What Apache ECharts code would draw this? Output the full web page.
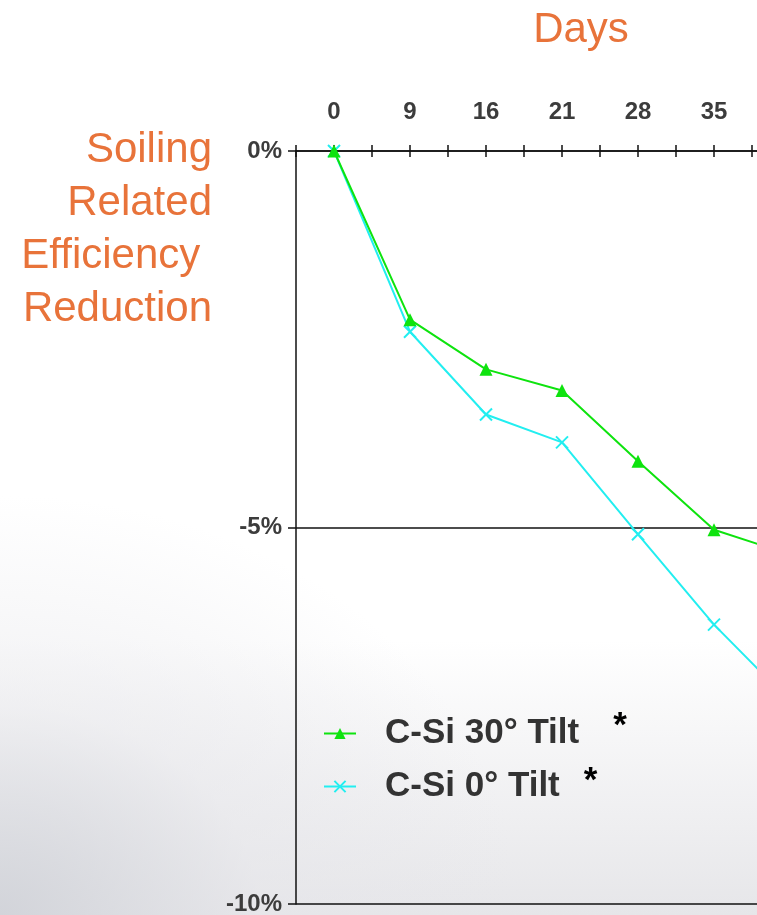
<!DOCTYPE html>
<html>
<head>
<meta charset="utf-8">
<script src="https://cdn.jsdelivr.net/npm/echarts@6/dist/echarts.min.js"></script>
<style>
  html, body { margin: 0; padding: 0; }
  #chart {
    width: 757px; height: 915px;
    background:
      radial-gradient(ellipse 520px 420px at 0% 100%, rgba(208,210,216,0.9) 0%, rgba(230,230,234,0.5) 50%, rgba(255,255,255,0) 100%),
      linear-gradient(to bottom, #ffffff 0%, #ffffff 70%, #e6e6e9 100%);
  }
</style>
</head>
<body>
<div id="chart"></div>
<script>
// day labels on the top axis (evenly spaced, last one falls off the right edge)
const days = ['0', '9', '16', '21', '28', '35', '42'];
// soiling related efficiency reduction, %
const tilt30 = [0, -2.24, -2.90, -3.18, -4.12, -5.03, -5.36];
const tilt0 = [0, -2.40, -3.50, -3.87, -5.09, -6.29, -7.31];
const yTicks = [0, -5, -10];
const yTitle = ['Soiling', 'Related', 'Efficiency ', 'Reduction'];

const chart = echarts.init(document.getElementById('chart'));

const toPoints = arr => arr.map((v, i) => [i, v]);
const orange = '#E8733A';
const font = '"Liberation Sans", Arial, sans-serif';

const xBase = {
  type: 'value',
  position: 'top',
  min: -0.5,
  max: 6.5,
  interval: 0.5,
  splitLine: { show: false },
};

const titleText = yTitle.map((t, i) => ({
  type: 'text', x: 212, y: 150 + i * 53,
  style: {
    text: t, fill: orange, font: '42px ' + font,
    align: 'right', textAlign: 'right', verticalAlign: 'middle', textVerticalAlign: 'middle'
  }
}));

chart.setOption({
  animation: false,
  backgroundColor: 'transparent',
  textStyle: { fontFamily: font },
  grid: { left: 296, top: 151, width: 532, bottom: 11, outerBoundsMode: 'none', containLabel: false },
  graphic: [
    {
      type: 'text', x: 581, y: 30,
      style: {
        text: 'Days', fill: orange, font: '42px ' + font,
        align: 'center', textAlign: 'center', verticalAlign: 'middle', textVerticalAlign: 'middle'
      }
    }
  ].concat(titleText),
  xAxis: [
    Object.assign({}, xBase, {
      axisLine: { onZero: false, lineStyle: { color: '#111', width: 1.5 } },
      axisTick: { length: 6, lineStyle: { color: '#111', width: 1.5 } },
      axisLabel: {
        margin: 27, color: '#3c3c3c', fontSize: 24, fontWeight: 'bold',
        formatter: v => Number.isInteger(v) ? days[v] : ''
      }
    }),
    Object.assign({}, xBase, {
      axisLine: { show: false, onZero: false },
      axisTick: { inside: true, length: 6, lineStyle: { color: '#111', width: 1.5 } },
      axisLabel: { show: false }
    })
  ],
  yAxis: {
    type: 'value',
    min: -10,
    max: 0,
    interval: 5,
    axisLine: { show: true, onZero: false, lineStyle: { color: '#111', width: 1.5 } },
    axisTick: { show: true, length: 8, lineStyle: { color: '#111', width: 1.5 } },
    axisLabel: {
      margin: 14, color: '#3c3c3c', fontSize: 24, fontWeight: 'bold',
      formatter: v => yTicks.includes(v) ? v + '%' : ''
    },
    splitLine: { show: true, lineStyle: { color: '#111', width: 1.5 } }
  },
  legend: {
    orient: 'vertical',
    left: 318,
    top: 704,
    itemGap: 13,
    itemWidth: 32,
    itemHeight: 14,
    textStyle: {
      fontSize: 35, fontWeight: 'bold', color: '#333', padding: [0, 0, 0, 24],
      rich: {
        s1: { fontSize: 35, fontWeight: 'bold', color: '#000', padding: [0, 0, 14, 34] },
        s2: { fontSize: 35, fontWeight: 'bold', color: '#000', padding: [0, 0, 10, 24] }
      }
    },
    formatter: name => name + (name.indexOf('30') >= 0 ? '{s1|*}' : '{s2|*}'),
    data: ['C-Si 30° Tilt', 'C-Si 0° Tilt']
  },
  series: [
    {
      name: 'C-Si 30° Tilt',
      type: 'line',
      data: toPoints(tilt30),
      symbol: 'triangle',
      symbolSize: 13,
      lineStyle: { color: '#0ee30e', width: 2 },
      itemStyle: { color: '#0ee30e' },
      z: 3
    },
    {
      name: 'C-Si 0° Tilt',
      type: 'line',
      data: toPoints(tilt0),
      symbol: 'path://M0,0L10,10M10,0L0,10',
      symbolSize: 12,
      lineStyle: { color: '#22eef0', width: 2 },
      itemStyle: { color: 'none', borderColor: '#22eef0', borderWidth: 2 },
      z: 2
    }
  ]
});
</script>
</body>
</html>
